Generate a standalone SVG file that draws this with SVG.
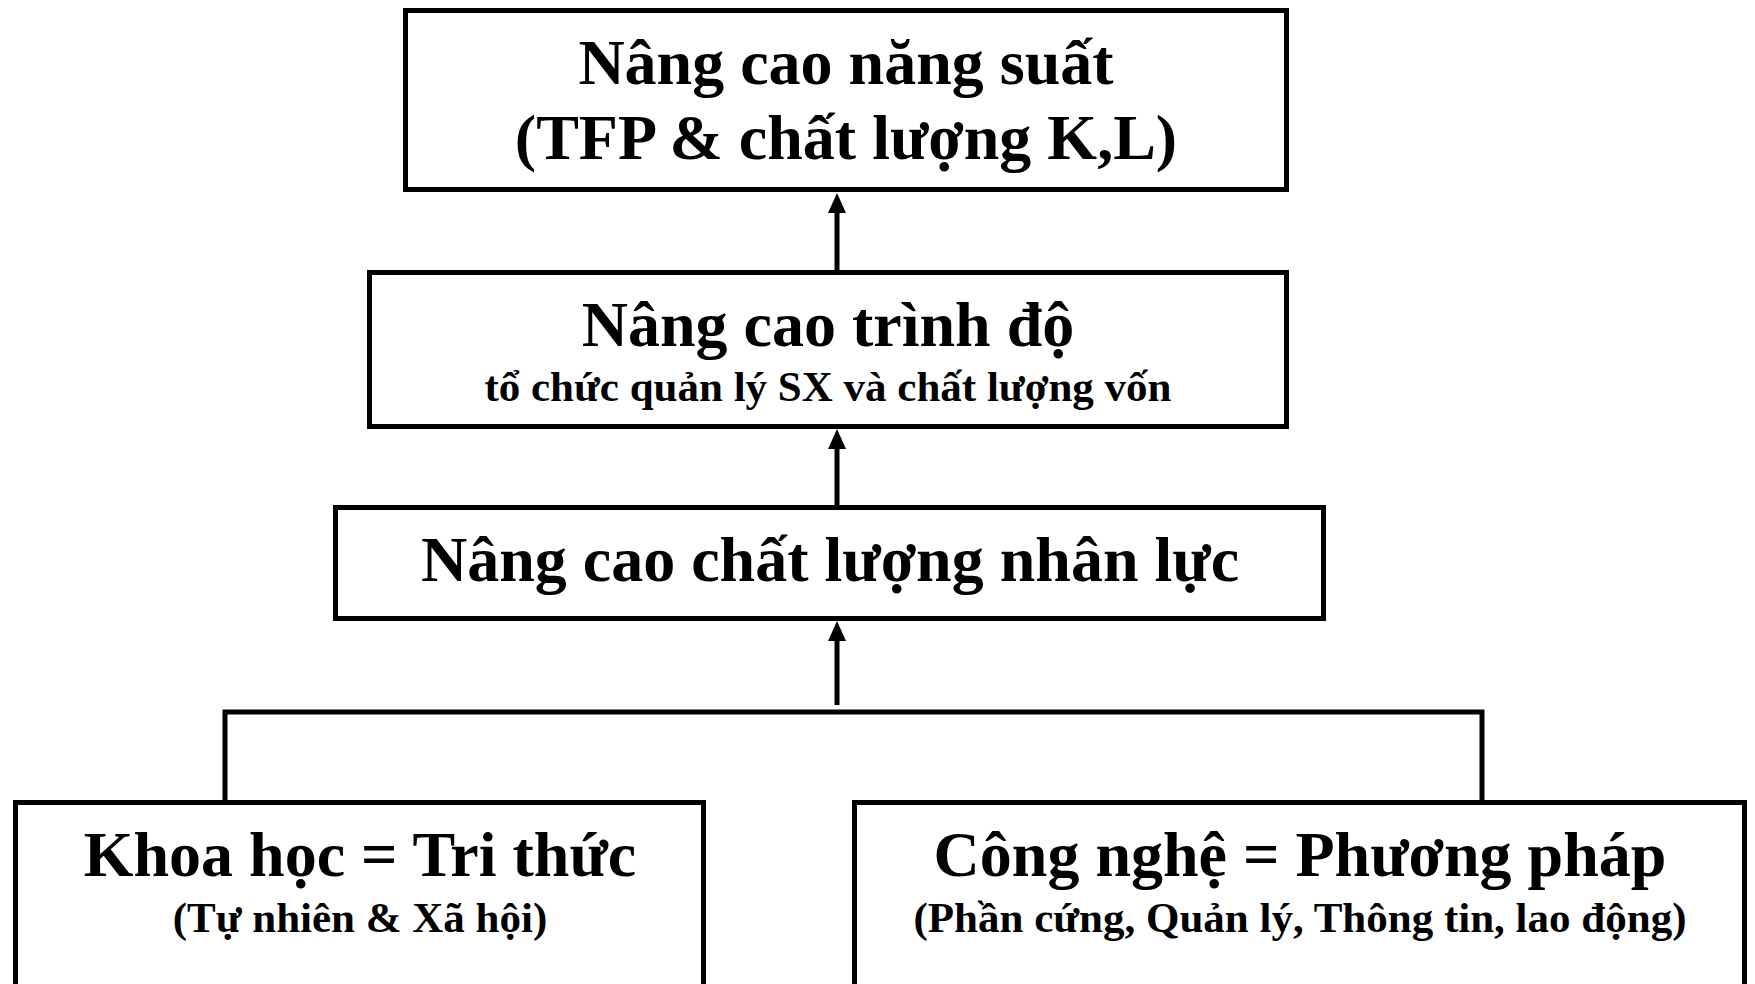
<svg xmlns="http://www.w3.org/2000/svg" width="1755" height="984" viewBox="0 0 1755 984">
<style>
.box{fill:#fff;stroke:#000;stroke-width:5}
.t{font-family:"Liberation Serif","Times New Roman",serif;font-weight:bold;fill:#000;text-anchor:middle}
.big{font-size:64px}
.small{font-size:43px}
.line{fill:none;stroke:#000;stroke-width:5}
.head{fill:#000}
</style>
<rect width="1755" height="984" fill="#fff"/>
<g id="connectors">
<line class="line" x1="837" y1="272" x2="837" y2="212"/>
<polygon class="head" points="837,193 846,213 828,213"/>
<line class="line" x1="837" y1="507" x2="837" y2="448"/>
<polygon class="head" points="837,429 846,449 828,449"/>
<line class="line" x1="837" y1="705" x2="837" y2="640"/>
<polygon class="head" points="837,621 846,641 828,641"/>
<polyline class="line" points="225,802 225,712 1482,712 1482,802"/>
</g>
<g id="node-top">
<rect class="box" x="405.5" y="10.5" width="881" height="179"/>
<text class="t big" x="846" y="84">Nâng cao năng suất</text>
<text class="t big" x="846" y="159">(TFP &amp; chất lượng K,L)</text>
</g>
<g id="node-trinhdo">
<rect class="box" x="369.5" y="272.5" width="917" height="154"/>
<text class="t big" x="828" y="346">Nâng cao trình độ</text>
<text class="t small" x="828" y="401">tổ chức quản lý SX và chất lượng vốn</text>
</g>
<g id="node-nhanluc">
<rect class="box" x="335.5" y="507.5" width="988" height="111"/>
<text class="t big" x="830" y="581">Nâng cao chất lượng nhân lực</text>
</g>
<g id="node-khoahoc">
<rect class="box" x="15.5" y="802.5" width="688" height="220"/>
<text class="t big" x="360" y="876">Khoa học = Tri thức</text>
<text class="t small" x="360" y="932">(Tự nhiên &amp; Xã hội)</text>
</g>
<g id="node-congnghe">
<rect class="box" x="854.5" y="802.5" width="890" height="220"/>
<text class="t big" x="1300" y="876">Công nghệ = Phương pháp</text>
<text class="t small" x="1300" y="932">(Phần cứng, Quản lý, Thông tin, lao động)</text>
</g>
</svg>
